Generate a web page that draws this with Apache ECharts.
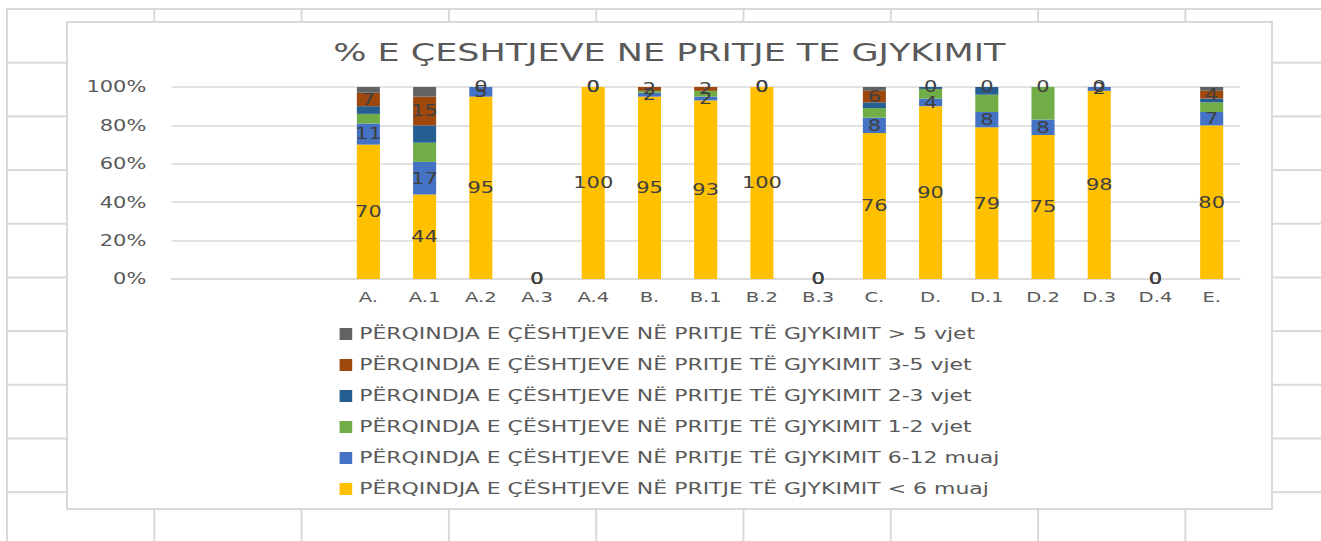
<!DOCTYPE html>
<html>
<head>
<meta charset="utf-8">
<script src="https://cdn.jsdelivr.net/npm/echarts@6/dist/echarts.min.js"></script>
<style>
  html, body { margin: 0; padding: 0; background: #fff; width: 1321px; height: 541px; overflow: hidden; }
  /* fletë Excel-i në sfond */
  .sheet {
    position: absolute; left: 6px; top: 8px; width: 1400px; height: 600px;
    background-image:
      linear-gradient(to right, #d9d9d9 2px, transparent 2px),
      linear-gradient(to bottom, #d9d9d9 2px, transparent 2px);
    background-size: 147.3px 53.7px;
  }
  .box {
    position: absolute; left: 66px; top: 21px; width: 1207px; height: 489px;
    box-sizing: border-box; border: 2px solid #d9d9d9; background: #fff; overflow: hidden;
  }
  /* origjinali është i shtrirë horizontalisht */
  #chart { width: 859px; height: 485px; transform: scaleX(1.4); transform-origin: 0 0; }
</style>
</head>
<body>
<div class="sheet"></div>
<div class="box"><div id="chart"></div></div>
<script>
// kategoritë (3 të parat bosh si në origjinal)
const categories = ['', '', '', 'A.', 'A.1', 'A.2', 'A.3', 'A.4', 'B.', 'B.1', 'B.2', 'B.3', 'C.', 'D.', 'D.1', 'D.2', 'D.3', 'D.4', 'E.'];
const nenGjashteMuaj = [null, null, null, 70, 44, 95, 0, 100, 95, 93, 100, 0, 76, 90, 79, 75, 98, 0, 80];
const gjashteDymbedhjete = [null, null, null, 11, 17, 5, 0, 0, 2, 2, 0, 0, 8, 4, 8, 8, 2, 0, 7];
const njeDyVjet = [null, null, null, 5, 10, 0, 0, 0, 1, 3, 0, 0, 5, 5, 9, 17, 0, 0, 5];
const dyTreVjet = [null, null, null, 4, 9, 0, 0, 0, 0, 0, 0, 0, 3, 1, 4, 0, 0, 0, 2];
const trePeseVjet = [null, null, null, 7, 15, 0, 0, 0, 2, 2, 0, 0, 6, 0, 0, 0, 0, 0, 4];
const mbiPeseVjet = [null, null, null, 3, 5, 0, 0, 0, 0, 0, 0, 0, 2, 0, 0, 0, 0, 0, 2];
const yTicks = [0, 20, 40, 60, 80, 100];

const prefix = 'PËRQINDJA E ÇËSHTJEVE NË PRITJE TË GJYKIMIT ';
const FONT = 'DejaVu Sans';

const labelOn = {
  show: true,
  position: 'inside',
  color: '#404040',
  fontSize: 15,
  fontFamily: FONT,
  formatter: (p) => (p.value == null ? '' : p.value),
};

const mkSeries = (name, data, color, withLabel) => ({
  name: prefix + name,
  type: 'bar',
  stack: 'total',
  barWidth: '41%',
  data: data,
  itemStyle: { color: color },
  label: withLabel ? labelOn : { show: false },
  emphasis: { disabled: true },
});

const myChart = echarts.init(document.getElementById('chart'), null, { renderer: 'svg' });
const option = {
  animation: false,
  title: {
    text: '% E ÇESHTJEVE NE PRITJE TE GJYKIMIT',
    left: 'center',
    top: 12,
    textStyle: { color: '#595959', fontSize: 25, fontWeight: 'normal', fontFamily: FONT },
  },
  legend: {
    orient: 'vertical',
    left: 189,
    top: 298,
    height: 200,
    itemWidth: 9,
    itemHeight: 12,
    itemGap: 15,
    icon: 'rect',
    textStyle: { color: '#595959', fontSize: 15.7, fontFamily: FONT },
    data: [
      prefix + '> 5 vjet',
      prefix + '3-5 vjet',
      prefix + '2-3 vjet',
      prefix + '1-2 vjet',
      prefix + '6-12 muaj',
      prefix + '< 6 muaj',
    ],
  },
  grid: { left: 74, right: 22, top: 64, bottom: 229 },
  xAxis: {
    type: 'category',
    data: categories,
    axisTick: { show: false },
    axisLine: { lineStyle: { color: '#d9d9d9', width: 1.5 } },
    axisLabel: { color: '#595959', fontSize: 14, fontFamily: FONT, margin: 11, interval: 0 },
  },
  yAxis: {
    type: 'value',
    min: yTicks[0],
    max: yTicks[yTicks.length - 1],
    interval: 20,
    axisLine: { show: false },
    axisTick: { show: false },
    splitLine: { lineStyle: { color: '#d9d9d9', width: 1.5 } },
    axisLabel: { color: '#595959', fontSize: 15, fontFamily: FONT, margin: 18, formatter: '{value}%' },
  },
  series: [
    mkSeries('< 6 muaj', nenGjashteMuaj, '#FFC000', true),
    mkSeries('6-12 muaj', gjashteDymbedhjete, '#4472C4', true),
    mkSeries('1-2 vjet', njeDyVjet, '#70AD47', false),
    mkSeries('2-3 vjet', dyTreVjet, '#255E91', false),
    mkSeries('3-5 vjet', trePeseVjet, '#9E480E', true),
    mkSeries('> 5 vjet', mbiPeseVjet, '#636363', false),
  ],
};
myChart.setOption(option);
</script>
</body>
</html>
